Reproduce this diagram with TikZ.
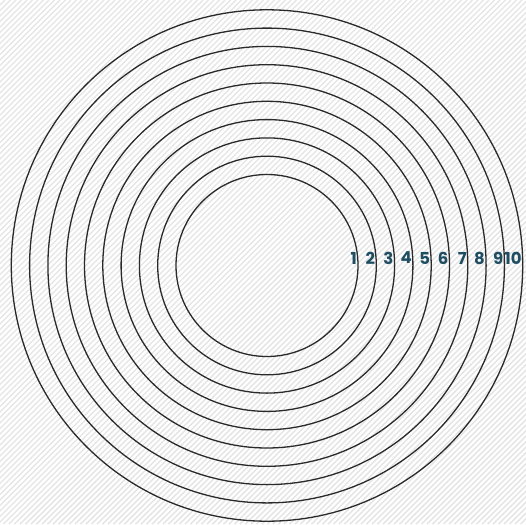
\documentclass[tikz,border=0pt]{standalone}
\usepackage{fontspec}
\newfontfamily\ringfont{Poppins}
\definecolor{ringteal}{HTML}{1F4E63}
\definecolor{ringline}{HTML}{2A2A2A}
\definecolor{hatchgrey}{HTML}{E4E4E4}
\tikzset{
  ring/.style={ringline, line width=1.3pt},
  ringlabel/.style={anchor=east, inner sep=0pt, xshift=-1pt, text=ringteal,
    font=\ringfont\bfseries\fontsize{16.5}{16.5}\selectfont},
  hatch/.style={hatchgrey, line width=1.4pt}
}
\begin{document}
\begin{tikzpicture}[x=1pt,y=-1pt]
        \useasboundingbox (0,0) rectangle (526,524);
        \begin{scope}
            \clip (0,0) rectangle (526,524);
            \foreach \k in {-530,-524.5,...,540}
                \draw[hatch] (\k,524) -- ++(524,-524);
        \end{scope}
        \coordinate (c) at (267,265.5);
        \foreach \i in {1,...,10} {
            \pgfmathsetmacro\r{91+18.3*(\i-1)}
            \draw[ring] (c) circle (\r pt);
            \node[ringlabel] (l\i) at (267+\r,258) {\i};
        }
    \end{tikzpicture}
\end{document}
